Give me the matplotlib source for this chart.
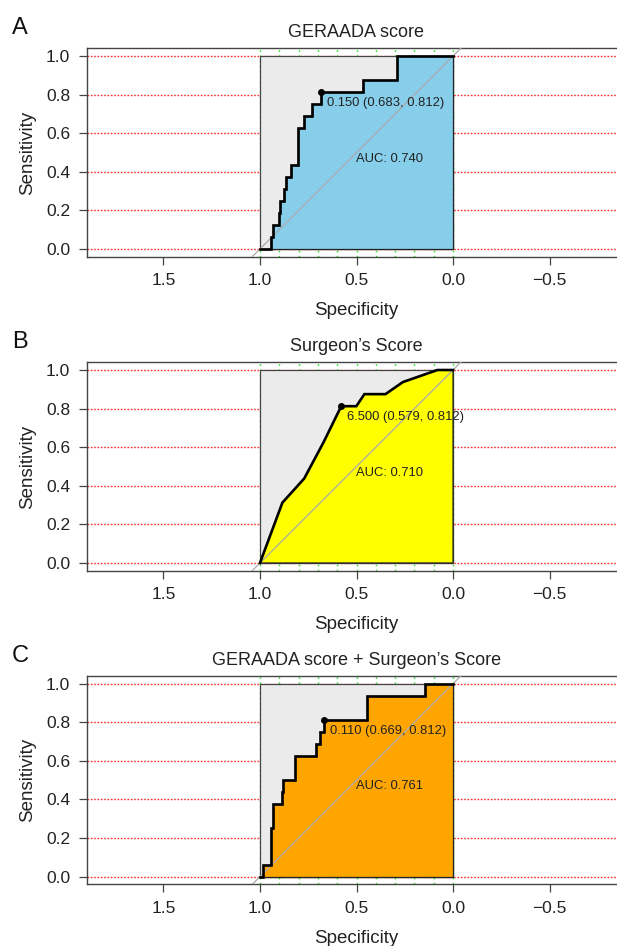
import numpy as np
import matplotlib
matplotlib.use("Agg")
import matplotlib.pyplot as plt

plt.rcParams['font.family'] = ['Liberation Sans', 'DejaVu Sans']

# panel data
panel_letters = ['A', 'B', 'C']
titles = ['GERAADA score', 'Surgeon\u2019s Score', 'GERAADA score + Surgeon\u2019s Score']
fill_colors = ['#87CEEB', '#FFFF00', '#FFA500']

spec_a = [1.0, 0.945, 0.945, 0.934, 0.934, 0.899, 0.899, 0.894, 0.894, 0.873, 0.873,
          0.865, 0.865, 0.841, 0.841, 0.801, 0.801, 0.773, 0.773, 0.731, 0.731,
          0.683, 0.683, 0.468, 0.468, 0.289, 0.289, 0.0]
sens_a = [0.0, 0.0, 0.0625, 0.0625, 0.125, 0.125, 0.1875, 0.1875, 0.25, 0.25, 0.3125,
          0.3125, 0.375, 0.375, 0.4375, 0.4375, 0.625, 0.625, 0.6875, 0.6875, 0.75,
          0.75, 0.8125, 0.8125, 0.875, 0.875, 1.0, 1.0]

spec_b = [1.0, 0.884, 0.771, 0.671, 0.579, 0.501, 0.459, 0.350, 0.260, 0.081, 0.0]
sens_b = [0.0, 0.3125, 0.4375, 0.625, 0.8125, 0.8125, 0.875, 0.875, 0.9375, 1.0, 1.0]

spec_c = [1.0, 0.983, 0.983, 0.945, 0.945, 0.931, 0.931, 0.887, 0.887, 0.882, 0.882,
          0.818, 0.818, 0.709, 0.709, 0.690, 0.690, 0.669, 0.669, 0.445, 0.445,
          0.146, 0.146, 0.0]
sens_c = [0.0, 0.0, 0.0625, 0.0625, 0.25, 0.25, 0.375, 0.375, 0.4375, 0.4375, 0.5,
          0.5, 0.625, 0.625, 0.6875, 0.6875, 0.75, 0.75, 0.8125, 0.8125, 0.9375,
          0.9375, 1.0, 1.0]

thresholds = ['0.150', '6.500', '0.110']
thr_spec = [0.683, 0.579, 0.669]
thr_sens = [0.812, 0.812, 0.812]
auc_values = [0.740, 0.710, 0.761]

x_ticks = [1.5, 1.0, 0.5, 0.0, -0.5]
y_ticks = [0.0, 0.2, 0.4, 0.6, 0.8, 1.0]
v_grid = np.round(np.arange(0, 1.01, 0.1), 1)

specs = [spec_a, spec_b, spec_c]
senss = [sens_a, sens_b, sens_c]

W, H = 617, 946
fig = plt.figure(figsize=(W / 100, H / 100), dpi=100)

bottoms_px = [256.7, 570.7, 884.4]   # bottom spine, pixels from top
letter_base_px = [34, 348, 662]
ax_h = 208.4 / H
spine_col = '#444444'
txt_col = '#222222'

for i in range(3):
    ax = fig.add_axes([87 / W, (H - bottoms_px[i]) / H, 539 / W, ax_h])
    ax.set_xlim(1.896, -0.896)
    ax.set_ylim(-0.04, 1.04)

    # dotted grid
    for v in y_ticks:
        ax.axhline(v, color='#ff3030', lw=1, ls=(0, (1.2, 1.2)), zorder=1)
    for v in v_grid:
        ax.axvline(v, color='#30e030', lw=1, ls=(0, (1.2, 2.5)), zorder=1)

    s = np.array(specs[i])
    se = np.array(senss[i])
    ax.fill([1, 0, 0, 1], [0, 0, 1, 1], facecolor='#ebebeb', edgecolor=spine_col,
            lw=0.9, zorder=2)
    ax.fill(np.r_[s, 0, 1], np.r_[se, 0, 0], facecolor=fill_colors[i],
            edgecolor='#222222', lw=0.9, zorder=3)
    ax.axline((1, 0), (0, 1), color='#aaaaaa', lw=0.9, zorder=4)
    ax.plot(s, se, color='black', lw=1.9, zorder=5, solid_joinstyle='miter')
    ax.plot(thr_spec[i], thr_sens[i], 'o', color='black', ms=4, zorder=6)

    ax.text(thr_spec[i] - 0.03, thr_sens[i] - 0.025,
            f'{thresholds[i]} ({thr_spec[i]:.3f}, {thr_sens[i]:.3f})',
            ha='left', va='top', fontsize=9.4, color=txt_col, zorder=7)
    ax.text(0.5, 0.5, f'AUC: {auc_values[i]:.3f}', ha='left', va='top',
            fontsize=9.4, color=txt_col, zorder=7)

    ax.set_xticks(x_ticks)
    ax.set_xticklabels([f'{t:.1f}'.replace('-', '\u2212') for t in x_ticks])
    ax.set_yticks(y_ticks)
    ax.set_yticklabels([f'{t:.1f}' for t in y_ticks])
    ax.tick_params(direction='out', length=6, width=0.9, color=spine_col,
                   labelsize=12.5, pad=6, labelcolor=txt_col)
    for sp in ax.spines.values():
        sp.set_color(spine_col)
        sp.set_linewidth(1.0)

    ax.set_xlabel('Specificity', fontsize=13.5, labelpad=10, color=txt_col)
    ax.set_ylabel('Sensitivity', fontsize=13.5, labelpad=7, color=txt_col)
    ax.set_title(titles[i], fontsize=13, pad=8, color=txt_col)

    fig.text(12 / W, 1 - letter_base_px[i] / H, panel_letters[i], fontsize=17,
             va='baseline', ha='left', color='#111111')

fig.savefig('out.png', dpi=100)
